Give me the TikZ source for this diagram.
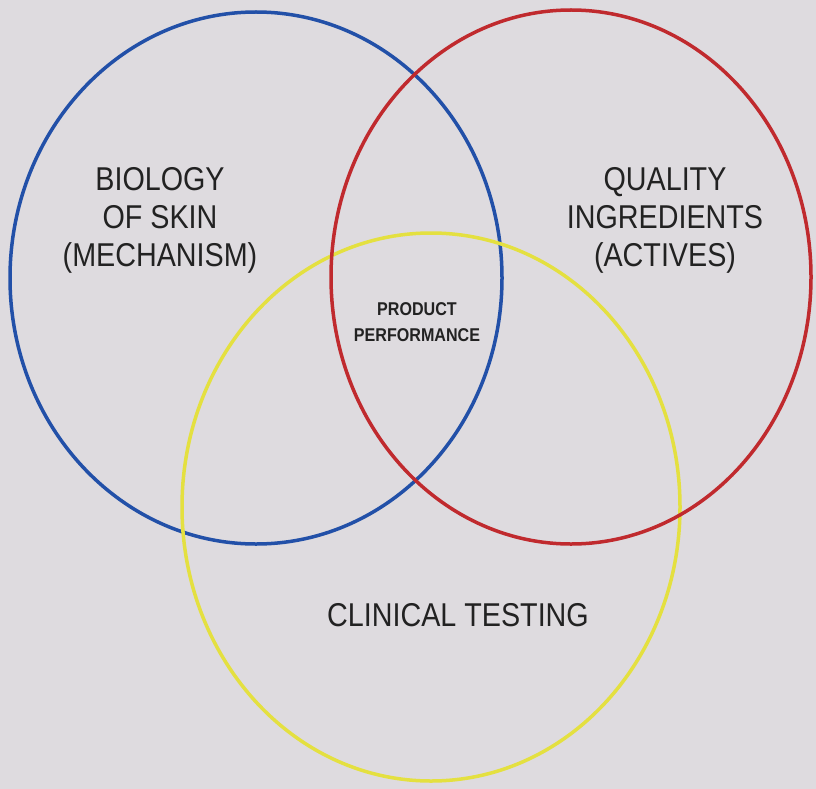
\documentclass[tikz,border=0pt]{standalone}
\usepackage{fontspec}
\setmainfont{Liberation Sans}
\newfontfamily\narrowfont[FakeStretch=0.87]{Liberation Sans}
\usetikzlibrary{shapes.geometric}
\definecolor{bgc}{HTML}{DEDBDF}
\definecolor{bluec}{HTML}{2250A8}
\definecolor{redc}{HTML}{C02A2E}
\definecolor{yelc}{HTML}{E4E040}
\definecolor{txtc}{HTML}{222222}
\tikzset{
  ring/.style={ellipse, draw, line width=3.5pt, inner sep=0pt, outer sep=0pt},
  biglabel/.style={align=center, text=txtc, font=\narrowfont\fontsize{33}{38}\selectfont, inner sep=0pt},
  smalllabel/.style={align=center, text=txtc, font=\narrowfont\fontsize{18.5}{26}\selectfont\bfseries, inner sep=0pt}
}
\begin{document}
\begin{tikzpicture}[x=1pt, y=-1pt]
\fill[bgc] (0,0) rectangle (816,789);
\useasboundingbox (0,0) rectangle (816,789);
\node[ring, draw=bluec, minimum width=492pt, minimum height=532pt] (bio) at (256,278) {};
\node[ring, draw=yelc, minimum width=498pt, minimum height=548pt] (clin) at (431,507) {};
\node[ring, draw=redc, minimum width=480pt, minimum height=534pt] (qual) at (571,277) {};
\node[biglabel] (biot) at (160,220) {BIOLOGY\\OF SKIN\\(MECHANISM)};
\node[biglabel] (qualt) at (665,220) {QUALITY\\INGREDIENTS\\(ACTIVES)};
\node[biglabel] (clint) at (458,615) {CLINICAL TESTING};
\node[smalllabel] (prod) at (417,322) {PRODUCT\\PERFORMANCE};
\end{tikzpicture}
\end{document}
